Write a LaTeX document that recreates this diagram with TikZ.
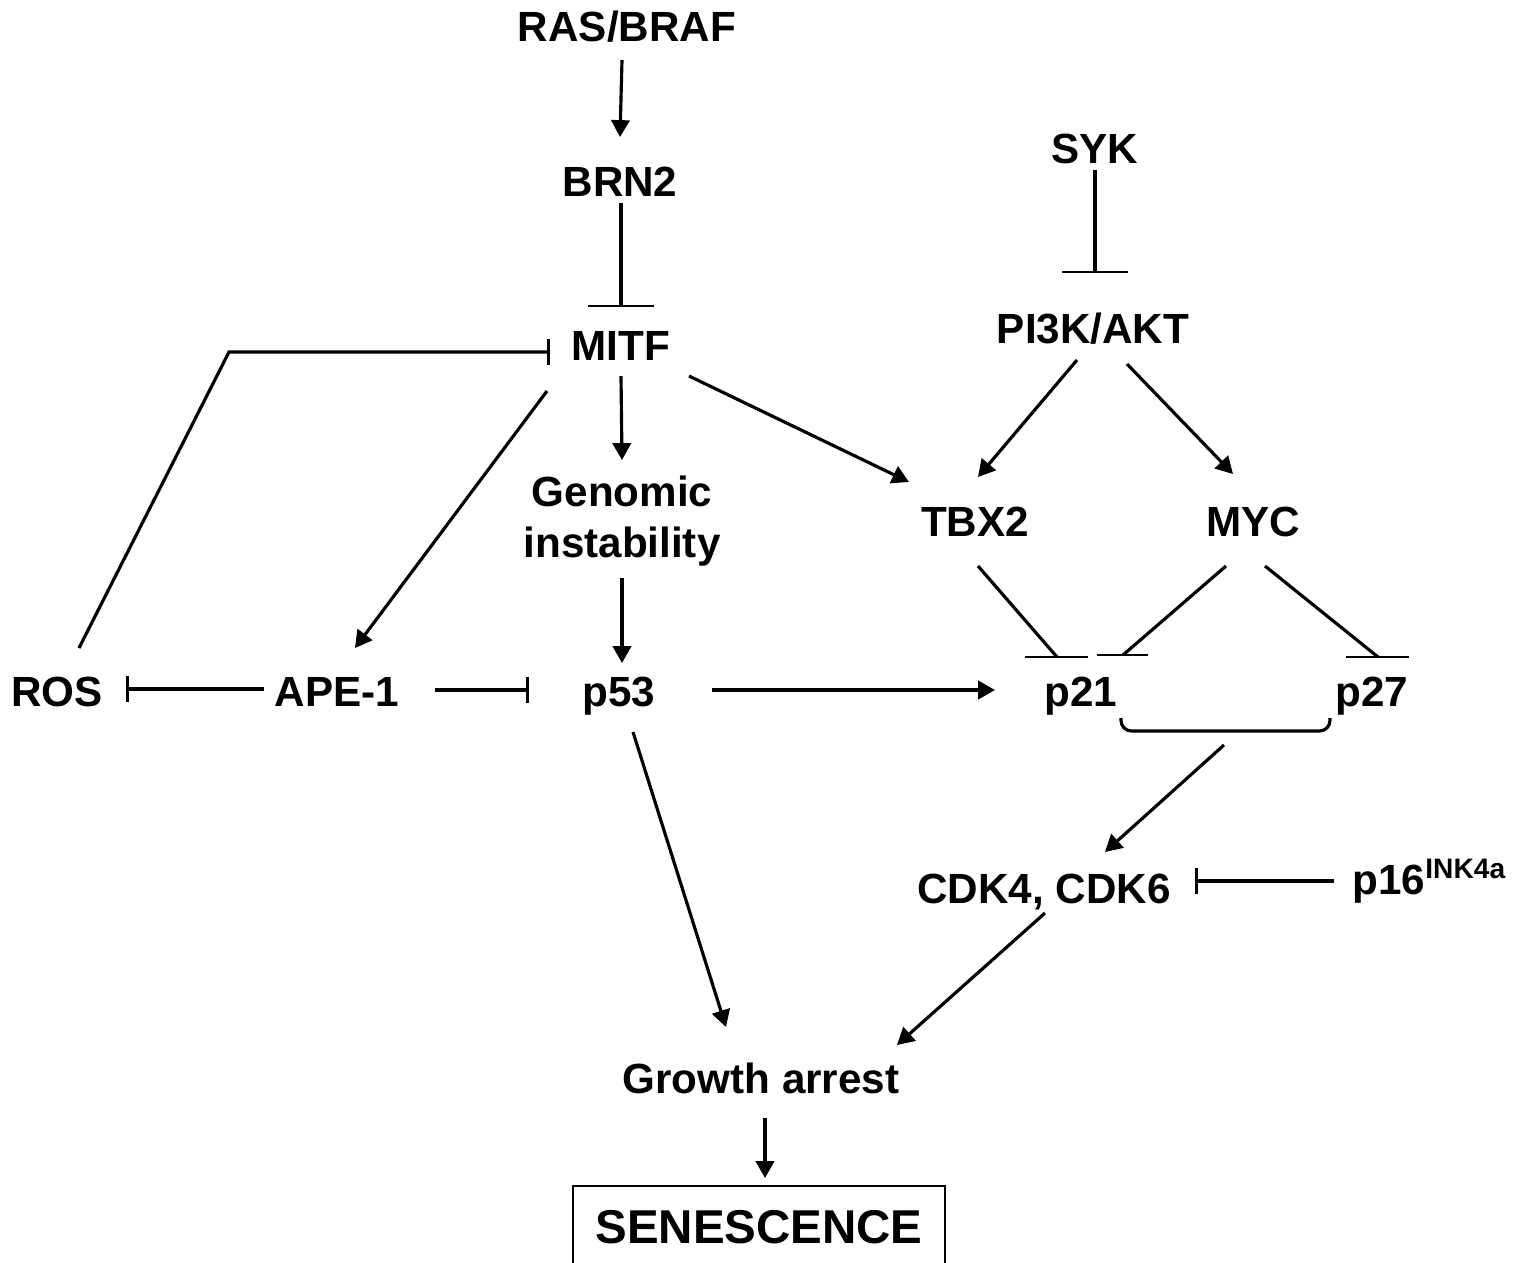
\documentclass[tikz,border=0pt]{standalone}
\usepackage{fontspec}
\setmainfont{Liberation Sans}
\usetikzlibrary{arrows.meta}
\tikzset{txt/.style={font=\fontsize{12}{14.3}\selectfont\bfseries,inner sep=0pt},
		gene/.style={txt,text height=8.6pt,text depth=0pt},
		act/.style={-{Triangle[length=4.8pt,width=5.2pt]},line width=0.9pt},
		inh/.style={-{Bar[width=7.2pt]},line width=0.9pt},
		longinh/.style={-{Bar[width=18.5pt,line width=0.6pt]},line width=0.9pt},
		flatbar/.style={line width=0.6pt}}

\begin{document}
\begin{tikzpicture}[x=0.01cm,y=-0.01cm]
		\useasboundingbox (0,0) rectangle (1523,1263);
		% upstream
		\node[gene] (ras) at (627,26) {RAS/BRAF};
		\node[gene] (brn2) at (620,181) {BRN2};
		\node[gene] (mitf) at (621,345) {MITF};
		\node[gene] (syk) at (1095,148) {SYK};
		\node[gene] (pi3k) at (1093,328) {PI3K/AKT};
		\node[txt,align=center] (genomic) at (622,521) {Genomic\\instability};
		\node[gene] (tbx2) at (975,521) {TBX2};
		\node[gene] (myc) at (1253,521) {MYC};
		% middle row
		\node[gene] (ros) at (57,691) {ROS};
		\node[gene] (ape) at (337,691) {APE-1};
		\node[gene] (p53) at (619,691) {p53};
		\node[gene] (p21) at (1081,691) {p21};
		\node[gene] (p27) at (1372,691) {p27};
		% downstream
		\node[gene] (cdk) at (1044,888) {CDK4, CDK6};
		\node[gene,anchor=west] (p16) at (1352,879) {p16\textsuperscript{INK4a}};
		\node[gene] (growth) at (761,1078) {Growth arrest};
		\node[draw,line width=0.6pt,anchor=north,minimum width=3.72cm,inner xsep=0pt,inner ysep=0.23cm,
			text height=9.7pt,text depth=1cm,font=\fontsize{13.5}{16}\selectfont\bfseries] (sen) at (759,1185) {SENESCENCE};
		\coordinate (rosbend) at (229,352);

		\draw[act] ([shift={(-5,34)}]ras.center) -- ([shift={(0,-44)}]brn2.center);
		\draw[longinh] ([shift={(1,22)}]brn2.center) -- ([shift={(0,-38)}]mitf.center);
		\draw[longinh] ([shift={(0,22)}]syk.center) -- ([shift={(2,-55)}]pi3k.center);
		\draw[inh] ([shift={(22,-43)}]ros.center) -- (rosbend) -- ([shift={(-71,7)}]mitf.center);
		\draw[act] ([shift={(0,31)}]mitf.center) -- ([shift={(0,-61)}]genomic.center);
		\draw[act] ([shift={(-74,46)}]mitf.center) -- ([shift={(18,-43)}]ape.center);
		\draw[act] ([shift={(68,31)}]mitf.center) -- ([shift={(-66,-39)}]tbx2.center);
		\draw[act] ([shift={(0,57)}]genomic.center) -- ([shift={(3,-28)}]p53.center);
		\draw[act] ([shift={(-16,32)}]pi3k.center) -- ([shift={(3,-44)}]tbx2.center);
		\draw[act] ([shift={(34,36)}]pi3k.center) -- ([shift={(-20,-47)}]myc.center);

		% inhibition onto p21 / p27 (flat bars)
		\draw[line width=0.9pt] ([shift={(3,45)}]tbx2.center) -- ([shift={(-24,-34)}]p21.center);
		\draw[flatbar] ([shift={(-56,-34)}]p21.center) -- ([shift={(7,-34)}]p21.center);
		\draw[line width=0.9pt] ([shift={(-27,45)}]myc.center) -- ([shift={(42,-36)}]p21.center);
		\draw[flatbar] ([shift={(16,-36)}]p21.center) -- ([shift={(67,-36)}]p21.center);
		\draw[line width=0.9pt] ([shift={(12,45)}]myc.center) -- ([shift={(6,-34)}]p27.center);
		\draw[flatbar] ([shift={(-26,-34)}]p27.center) -- ([shift={(37,-34)}]p27.center);

		\draw[inh] ([shift={(-73,-2)}]ape.center) -- ([shift={(69,-2)}]ros.center);
		\draw[inh] ([shift={(98,-1)}]ape.center) -- ([shift={(-90,-1)}]p53.center);
		\draw[act] ([shift={(93,-1)}]p53.center) -- ([shift={(-86,-1)}]p21.center);

		% p21/p27 bracket
		\draw[line width=0.9pt,rounded corners=3pt] ([shift={(40,27)}]p21.center) -- ([shift={(40,40)}]p21.center)
			-- ([shift={(-42,40)}]p27.center) -- ([shift={(-42,27)}]p27.center);
		\draw[act] ([shift={(143,54)}]p21.center) -- ([shift={(61,-36)}]cdk.center);
		\draw[inh] ([shift={(-18,2)}]p16.west) -- ([shift={(151,-7)}]cdk.center);

		\draw[act] ([shift={(14,41)}]p53.center) -- ([shift={(-35,-51)}]growth.center);
		\draw[act] ([shift={(1,25)}]cdk.center) -- ([shift={(136,-33)}]growth.center);
		\draw[act] ([shift={(4,40)}]growth.center) -- ([shift={(6,-7)}]sen.north);
\end{tikzpicture}
\end{document}
